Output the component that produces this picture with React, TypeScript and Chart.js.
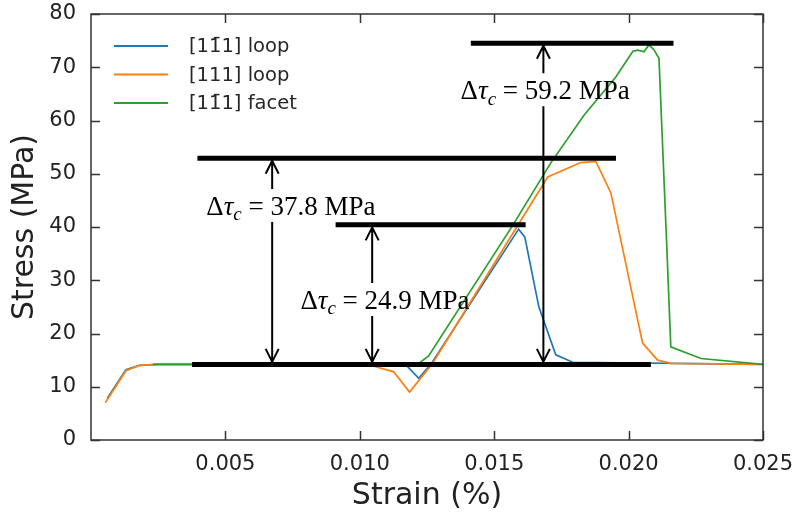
import React, { useEffect, useRef } from 'react';
import { Chart, registerables } from 'chart.js';

Chart.register(...registerables);

// ---- data ----
const blueStrain = [0.0006, 0.0013, 0.0018, 0.0025, 0.0113, 0.0117, 0.01219, 0.01264, 0.01591, 0.01614, 0.01666, 0.01729, 0.01792, 0.025];
const blueStress = [7.8, 13.2, 14.0, 14.2, 14.2, 14.2, 11.6, 14.2, 39.6, 38.1, 25.0, 16.0, 14.6, 14.2];

const orangeStrain = [0.00053, 0.0013, 0.0018, 0.0025, 0.0095, 0.0105, 0.01126, 0.01185, 0.01271, 0.01699, 0.01822, 0.01878, 0.01934, 0.02052, 0.02108, 0.02157, 0.025];
const orangeStress = [7.0, 13.0, 14.0, 14.2, 14.2, 13.9, 12.8, 9.0, 14.4, 49.4, 52.1, 52.3, 46.4, 18.2, 15.0, 14.4, 14.2];

const greenStrain = [0.0023, 0.0119, 0.01215, 0.01256, 0.0157, 0.0171, 0.01834, 0.01953, 0.02016, 0.02034, 0.02057, 0.02076, 0.02094, 0.02113, 0.02141, 0.02157, 0.02269, 0.025];
const greenStress = [14.2, 14.2, 14.2, 15.8, 40.4, 52.0, 61.0, 68.2, 73.0, 73.2, 72.9, 74.2, 73.3, 71.7, 37.6, 17.5, 15.3, 14.2];

const seriesLabels = ['[11\u03041] loop', '[111] loop', '[11\u03041] facet'];
const seriesColors = ['#1f77b4', '#ff7f0e', '#2ca02c'];

// horizontal reference bars
const barLevels = [14.2, 52.9, 40.4, 74.5];
const barStart = [0.00376, 0.00396, 0.0091, 0.01413];
const barEnd = [0.02083, 0.01953, 0.01617, 0.02167];

// double arrows (delta tau_c)
const arrowStrain = [0.00674, 0.01046, 0.01683];
const arrowLow = [14.2, 14.2, 14.2];
const arrowHigh = [52.9, 40.4, 74.5];
const arrowValues = ['37.8', '24.9', '59.2'];
const labelStrain = [0.00429, 0.00779, 0.01375];
const labelStress = [42.25, 24.6, 64.0];

const yTicks = [0, 10, 20, 30, 40, 50, 60, 70, 80];
const xTickStep = 0.005;

const toXY = (xs: number[], ys: number[]) => xs.map((x, i) => ({ x, y: ys[i] }));

const overlayPlugin = {
  id: 'overlay',
  afterDatasetsDraw(chart: any) {
    const ctx = chart.ctx as CanvasRenderingContext2D;
    const xs = chart.scales.x;
    const ys = chart.scales.y;
    const fs = 27;
    ctx.save();
    ctx.strokeStyle = '#000';
    ctx.fillStyle = '#000';
    ctx.lineWidth = 2;
    for (let i = 0; i < arrowStrain.length; i++) {
      const px = xs.getPixelForValue(arrowStrain[i]);
      const top = ys.getPixelForValue(arrowHigh[i]) + 2.5;
      const bot = ys.getPixelForValue(arrowLow[i]) - 2.5;
      const base = ys.getPixelForValue(labelStress[i]);
      const gapTop = base - 26;
      const gapBot = base + 7;
      ctx.beginPath();
      ctx.moveTo(px, top);
      ctx.lineTo(px, gapTop);
      ctx.moveTo(px, gapBot);
      ctx.lineTo(px, bot);
      // heads
      ctx.moveTo(px - 6.5, top + 13);
      ctx.lineTo(px, top);
      ctx.lineTo(px + 6.5, top + 13);
      ctx.moveTo(px - 6.5, bot - 13);
      ctx.lineTo(px, bot);
      ctx.lineTo(px + 6.5, bot - 13);
      ctx.stroke();

      // label
      let tx = xs.getPixelForValue(labelStrain[i]);
      const ty = base;
      ctx.textAlign = 'left';
      ctx.textBaseline = 'alphabetic';
      ctx.font = `${fs}px "Liberation Serif"`;
      ctx.fillText('\u0394', tx, ty);
      tx += ctx.measureText('\u0394').width;
      ctx.font = `italic ${fs}px "Liberation Serif"`;
      ctx.fillText('\u03c4', tx, ty);
      tx += ctx.measureText('\u03c4').width;
      ctx.font = `italic ${Math.round(fs * 0.7)}px "Liberation Serif"`;
      ctx.fillText('c', tx, ty + fs * 0.2);
      tx += ctx.measureText('c').width;
      ctx.font = `${fs}px "Liberation Serif"`;
      ctx.fillText(` = ${arrowValues[i]} MPa`, tx, ty);
    }
    ctx.restore();
  },
  afterDraw(chart: any) {
    const ctx = chart.ctx as CanvasRenderingContext2D;
    const { left, right, top, bottom } = chart.chartArea;
    const xs = chart.scales.x;
    const ys = chart.scales.y;
    ctx.save();
    ctx.strokeStyle = '#333';
    ctx.lineWidth = 1.5;
    ctx.strokeRect(left, top, right - left, bottom - top);
    const tl = 9;
    ctx.beginPath();
    for (let v = xTickStep; v <= 0.025 + 1e-9; v += xTickStep) {
      const px = Math.round(xs.getPixelForValue(v)) + 0.5;
      ctx.moveTo(px, bottom);
      ctx.lineTo(px, bottom - tl);
      ctx.moveTo(px, top);
      ctx.lineTo(px, top + tl);
    }
    for (const v of yTicks) {
      const py = Math.round(ys.getPixelForValue(v)) + 0.5;
      ctx.moveTo(left, py);
      ctx.lineTo(left + tl, py);
      ctx.moveTo(right, py);
      ctx.lineTo(right - tl, py);
    }
    ctx.stroke();

    // legend
    const lx0 = left + 23;
    const lx1 = left + 77;
    const tx = left + 98;
    const y0 = top + 32;
    const dy = 28.5;
    ctx.font = '19.5px "DejaVu Sans"';
    ctx.textBaseline = 'middle';
    ctx.textAlign = 'left';
    for (let i = 0; i < seriesLabels.length; i++) {
      const yy = y0 + i * dy;
      ctx.strokeStyle = seriesColors[i];
      ctx.lineWidth = 2;
      ctx.beginPath();
      ctx.moveTo(lx0, yy);
      ctx.lineTo(lx1, yy);
      ctx.stroke();
      ctx.fillStyle = '#262626';
      ctx.fillText(seriesLabels[i], tx, yy + 1);
    }
    ctx.restore();
  },
};

export default function App() {
  const ref = useRef<HTMLCanvasElement | null>(null);

  useEffect(() => {
    if (!ref.current) return;
    const seriesSets = [
      toXY(blueStrain, blueStress),
      toXY(orangeStrain, orangeStress),
      toXY(greenStrain, greenStress),
    ].map((data, i) => ({
      label: seriesLabels[i],
      data,
      borderColor: seriesColors[i],
      backgroundColor: seriesColors[i],
      borderWidth: 1.7,
      pointRadius: 0,
      tension: 0,
      fill: false,
      order: 3 - i,
    }));
    const barSets = barLevels.map((lvl, i) => ({
      label: '',
      data: [
        { x: barStart[i], y: lvl },
        { x: barEnd[i], y: lvl },
      ],
      borderColor: '#000',
      backgroundColor: '#000',
      borderWidth: 5,
      borderCapStyle: 'butt' as const,
      pointRadius: 0,
      tension: 0,
      fill: false,
      order: 0,
    }));

    const chart = new Chart(ref.current, {
      type: 'line',
      data: { datasets: [...seriesSets, ...barSets] as any },
      options: {
        animation: false,
        responsive: false,
        devicePixelRatio: 1,
        parsing: false as any,
        layout: { padding: { left: 0, top: 14, right: 35, bottom: 0 } },
        plugins: { legend: { display: false }, tooltip: { enabled: false } },
        scales: {
          x: {
            type: 'linear',
            min: 0,
            max: 0.025,
            ticks: {
              stepSize: xTickStep,
              padding: 12,
              color: '#222',
              font: { family: 'DejaVu Sans', size: 21 },
              callback: (v: any) => (Math.abs(Number(v)) < 1e-9 ? '' : Number(v).toFixed(3)),
            },
            grid: { display: false, drawTicks: false },
            border: { display: false },
            title: {
              display: true,
              text: 'Strain (%)',
              color: '#222',
              font: { family: 'DejaVu Sans', size: 30, lineHeight: 1 },
              padding: { top: 0, bottom: 1 },
            },
            afterFit: (s: any) => {
              s.height = 72;
              s.paddingLeft = 0;
              s.paddingRight = 0;
            },
          },
          y: {
            type: 'linear',
            min: 0,
            max: 80,
            ticks: {
              stepSize: 10,
              padding: 15,
              color: '#222',
              font: { family: 'DejaVu Sans', size: 21 },
            },
            grid: { display: false, drawTicks: false },
            border: { display: false },
            title: {
              display: true,
              text: 'Stress (MPa)',
              color: '#222',
              font: { family: 'DejaVu Sans', size: 30, lineHeight: 1 },
              padding: { top: 10, bottom: 0 },
            },
            afterFit: (s: any) => {
              s.width = 91;
              s.paddingTop = 0;
              s.paddingBottom = 0;
            },
          },
        },
      },
      plugins: [overlayPlugin],
    });
    return () => chart.destroy();
  }, []);

  return (
    <div style={{ position: 'absolute', left: 0, top: 0, width: 798, height: 512, background: '#fff' }}>
      <canvas ref={ref} width={798} height={512} style={{ display: 'block', width: 798, height: 512 }} />
    </div>
  );
}
